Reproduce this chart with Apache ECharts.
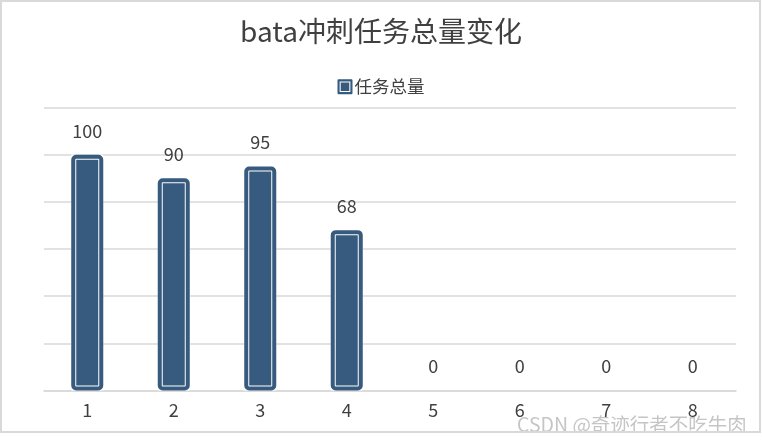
<!DOCTYPE html>
<html>
<head>
<meta charset="utf-8">
<script src="https://cdn.jsdelivr.net/npm/echarts@6/dist/echarts.min.js"></script>
<style>
  html, body { margin: 0; padding: 0; background: #fff; }
  #chart { width: 762px; height: 447px; }
</style>
</head>
<body>
<div id="chart"></div>
<script>
// 数据
var titleText = 'bata冲刺任务总量变化';
var seriesName = '任务总量';
var categories = ['1', '2', '3', '4', '5', '6', '7', '8'];
var taskTotals = [100, 90, 95, 68, 0, 0, 0, 0];

var barColor = '#375a7f';
var textColor = '#404040';
var lineColor = '#d9d9d9';
var font = '"Noto Sans CJK SC", "Open Sans", sans-serif';

var chart = echarts.init(document.getElementById('chart'));

// 0 的柱子不画边框
function noBorderForZero(v) {
    return v === 0 ? { value: v, itemStyle: { borderWidth: 0 } } : v;
}
var fillData = taskTotals.map(noBorderForZero);
var outlineData = taskTotals.map(noBorderForZero);

var option = {
    backgroundColor: '#fff',
    animation: false,
    title: {
        text: titleText,
        left: 'center',
        top: 12,
        textStyle: { fontFamily: font, fontSize: 28, fontWeight: 'normal', color: textColor }
    },
    legend: {
        data: [{ name: seriesName, itemStyle: { color: barColor, borderWidth: 0 } }],
        top: 73,
        left: 'center',
        itemWidth: 15,
        itemHeight: 15,
        icon: 'path://M1,0 H13 Q14,0 14,1 V13 Q14,14 13,14 H1 Q0,14 0,13 V1 Q0,0 1,0 Z M2,2 V12 H12 V2 Z M3,3 H11 V11 H3 Z',
        itemGap: 4,
        textStyle: { fontFamily: font, fontSize: 17.5, color: textColor, padding: [0, 0, 0, -3] }
    },
    grid: { left: 44, right: 26, top: 107.5, bottom: 56.5 },
    xAxis: {
        type: 'category',
        data: categories,
        axisLine: { lineStyle: { color: lineColor, width: 1.5 } },
        axisTick: { show: false },
        axisLabel: { fontFamily: font, fontSize: 18, color: textColor, margin: 11 }
    },
    yAxis: {
        type: 'value',
        min: 0,
        max: 120,
        interval: 20,
        axisLabel: { show: false },
        axisLine: { show: false },
        axisTick: { show: false },
        splitLine: { lineStyle: { color: lineColor, width: 1.5 } }
    },
    series: [
        {
            name: seriesName,
            type: 'bar',
            data: fillData,
            barWidth: 32,
            barGap: '-100%',
            z: 2,
            itemStyle: { color: barColor, borderColor: '#fff', borderWidth: 5 },
            label: {
                show: true,
                position: 'top',
                distance: 15,
                fontFamily: font,
                fontSize: 18,
                color: textColor
            }
        },
        {
            name: 'outline',
            type: 'bar',
            data: outlineData,
            barWidth: 32,
            z: 3,
            silent: true,
            itemStyle: { color: 'rgba(0,0,0,0)', borderColor: barColor, borderWidth: 4, borderRadius: 3 }
        }
    ],
    graphic: [
        {
            type: 'text',
            left: 517,
            top: 415,
            z: 10,
            style: { text: 'CSDN @奇迹行者不吃牛肉', font: '19.5px "Noto Sans CJK SC"', fill: 'rgba(150,150,150,0.55)' }
        },
        {
            type: 'rect',
            z: 11,
            shape: { x: 0, y: 433, width: 762, height: 14 },
            style: { fill: '#fff' }
        },
        {
            type: 'rect',
            z: 12,
            shape: { x: 1, y: 1, width: 759, height: 431 },
            style: { fill: 'none', stroke: lineColor, lineWidth: 2 }
        }
    ]
};

chart.setOption(option);
</script>
</body>
</html>
